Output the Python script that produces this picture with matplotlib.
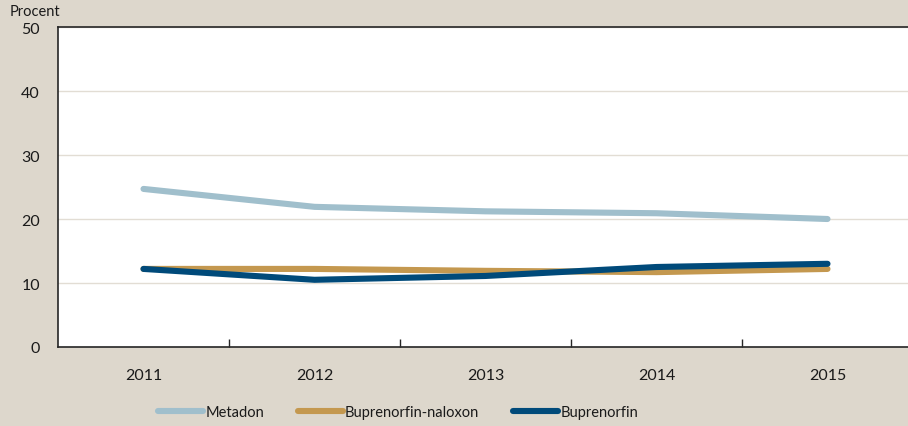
import matplotlib

matplotlib.use("Agg")
import matplotlib.pyplot as plt

# Andel (procent) per år och substans
YEARS = ["2011", "2012", "2013", "2014", "2015"]
METADON = [24.7, 21.9, 21.2, 20.9, 20.0]
BUP_NALOXON = [12.2, 12.2, 11.9, 11.7, 12.2]
BUPRENORFIN = [12.2, 10.5, 11.1, 12.5, 13.0]

BG = "#ddd7cc"
GRID = "#e2ddd4"
AXIS = "#262626"
TEXT = "#1a1a1a"

SERIES = [
    ("Metadon", METADON, "#a0bfcc"),
    ("Buprenorfin-naloxon", BUP_NALOXON, "#c4984f"),
    ("Buprenorfin", BUPRENORFIN, "#004a7a"),
]

plt.rcParams["font.family"] = ["Lato", "DejaVu Sans"]

fig = plt.figure(figsize=(9.08, 4.27), dpi=100)
fig.patch.set_facecolor(BG)
# plot area runs off the right edge of the picture, as in the source
ax = fig.add_axes([58 / 908, 1 - 348 / 427, 855 / 908, 320 / 427])
ax.set_facecolor("white")

xs = list(range(len(YEARS)))
for name, vals, color in SERIES:
    ax.plot(xs, vals, color=color, linewidth=4.4, solid_capstyle="round",
            solid_joinstyle="round", label=name)

ax.set_xlim(-0.5, len(YEARS) - 0.5)
ax.set_ylim(0, 50)
ax.set_yticks([0, 10, 20, 30, 40, 50])
ax.yaxis.grid(True, color=GRID, linewidth=1.0)
ax.set_axisbelow(True)

# category labels centered, tick marks between categories
ax.set_xticks(xs)
ax.set_xticklabels(YEARS)
ax.set_xticks([x + 0.5 for x in xs[:-1]], minor=True)
ax.tick_params(axis="x", which="major", length=0, pad=15, labelsize=11.5, colors=TEXT)
ax.tick_params(axis="x", which="minor", direction="in", length=6, width=1, color=AXIS)
ax.tick_params(axis="y", length=0, pad=13, labelsize=11.5, colors=TEXT)

for side in ("left", "bottom", "top"):
    ax.spines[side].set_color(AXIS)
    ax.spines[side].set_linewidth(1.2)
ax.spines["right"].set_visible(False)

fig.text(10 / 908, 1 - 12 / 427, "Procent", fontsize=10.5, color=TEXT, va="center", ha="left")

fig.legend(loc="center", bbox_to_anchor=(398 / 908, 1 - 413 / 427), ncol=3,
           frameon=False, fontsize=10.5, handlelength=3.1, handletextpad=0.15,
           columnspacing=2.3, labelcolor=TEXT)

fig.savefig("out.png", dpi=100, facecolor=BG)
